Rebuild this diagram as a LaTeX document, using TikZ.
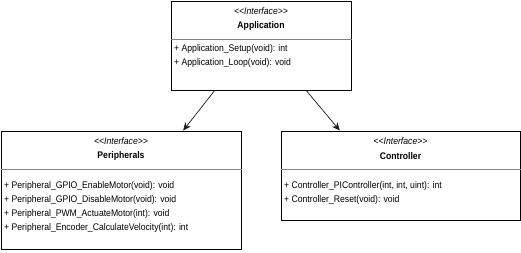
\documentclass[tikz,border=0pt]{standalone}
\usepackage{fontspec}
\setmainfont{Liberation Sans}[FakeStretch=0.9]
\usetikzlibrary{calc,arrows.meta}
\definecolor{uml-border}{HTML}{000000}
\definecolor{uml-divider}{HTML}{808080}
\definecolor{uml-arrow}{HTML}{1A1A1A}
% keep << and >> from turning into guillemets
\newcommand{\stereotype}[1]{<\kern0pt<#1>\kern0pt>}

\begin{document}
\begin{tikzpicture}[x=1pt, y=-1pt,
  classbox/.style={draw=uml-border, line width=1pt, fill=white, inner sep=0pt},
  stereo/.style={font=\fontsize{9.6}{11}\selectfont\itshape, inner sep=0pt},
  classname/.style={font=\fontsize{9.6}{11}\selectfont\bfseries, inner sep=0pt},
  member/.style={font=\fontsize{9.6}{11}\selectfont, anchor=west, inner sep=0pt},
  divider/.style={draw=uml-divider, line width=0.8pt},
  uses/.style={draw=uml-arrow, line width=0.7pt, -{Stealth[length=8pt, width=7pt]}}]
  \useasboundingbox (0,0) rectangle (521,252);

  % class boxes
  \node[classbox, minimum width=180, minimum height=89] (app) at (261,45.5) {};
  \node[classbox, minimum width=240, minimum height=118] (per) at (121,190) {};
  \node[classbox, minimum width=239, minimum height=89] (ctl) at (400.5,175.5) {};

  % headers
  \node[stereo] (appSt) at (261,11) {\stereotype{Interface}};
  \node[classname] (appName) at (261,26) {Application};
  \node[stereo] (perSt) at (121,141) {\stereotype{Interface}};
  \node[classname] (perName) at (121,156) {Peripherals};
  \node[stereo] (ctlSt) at (400.5,141) {\stereotype{Interface}};
  \node[classname] (ctlName) at (400.5,156) {Controller};

  \draw[divider] (app.west |- 0,39) -- (app.east |- 0,39);
  \draw[divider] (per.west |- 0,169) -- (per.east |- 0,169);
  \draw[divider] (ctl.west |- 0,169) -- (ctl.east |- 0,169);

  % operations
  \foreach \txt [count=\i] in {Application\_Setup(void): int, Application\_Loop(void): void}
    \node[member] (appOp\i) at (174,{35+14*\i}) {+ \txt};

  \foreach \txt [count=\i] in {Peripheral\_GPIO\_EnableMotor(void): void,
      Peripheral\_GPIO\_DisableMotor(void): void,
      Peripheral\_PWM\_ActuateMotor(int): void,
      Peripheral\_Encoder\_CalculateVelocity(int): int}
    \node[member] (perOp\i) at (4,{172+14*\i}) {+ \txt};

  \foreach \txt [count=\i] in {{Controller\_PIController(int, int, uint): int},
      Controller\_Reset(void): void}
    \node[member] (ctlOp\i) at (284,{172+14*\i}) {+ \txt};

  % dependencies
  \coordinate (appL) at ($(app.south west)!0.244!(app.south east)$);
  \coordinate (appR) at ($(app.south west)!0.75!(app.south east)$);
  \coordinate (perIn) at ($(per.north west)!0.758!(per.north east)$);
  \coordinate (ctlIn) at ($(ctl.north west)!0.247!(ctl.north east)$);
  \draw[uses] (appL) -- (perIn);
  \draw[uses] (appR) -- (ctlIn);

\end{tikzpicture}
\end{document}
